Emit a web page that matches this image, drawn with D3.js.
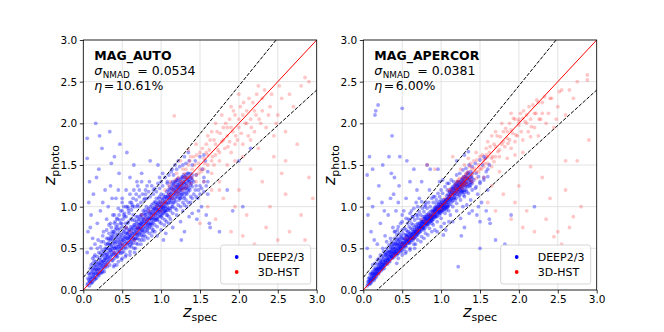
<!DOCTYPE html>
<html>
<head>
<meta charset="utf-8">
<script src="https://cdn.jsdelivr.net/npm/d3@7"></script>
<style>
  body { margin: 0; background: #fff; }
  text { font-family: "DejaVu Sans", sans-serif; }
</style>
</head>
<body>
<div id="container"></div>
<script>
/* DATA: [z_spec, z_photo] */

const tickValues = [0, 0.5, 1.0, 1.5, 2.0, 2.5, 3.0];
const panelTitles = ["MAG_AUTO", "MAG_APERCOR"];
const sigmaNmad = ["0.0534", "0.0381"];
const etaOutlier = ["10.61%", "6.00%"];
const seriesNames = ["DEEP2/3", "3D-HST"];
const outlierCut = 0.15;

const autoDeep = [
[0.06,0.08],[0.07,0.12],[0.08,0.1],[0.09,0.15],[0.1,0.13],[0.1,0.2],[0.11,0.09],[0.12,0.16],[0.12,0.24],[0.13,0.18],[0.14,0.12],[0.14,0.28],[0.15,0.2],[0.16,0.15],[0.16,0.25],[0.17,0.3],[0.18,0.19],[0.18,0.22],[0.19,0.33],[0.2,0.25],[0.2,0.17],[0.21,0.3],[0.22,0.21],[0.22,0.36],[0.23,0.27],[0.24,0.32],[0.24,0.22],[0.25,0.4],[0.25,0.29],[0.26,0.35],[0.27,0.26],[0.27,0.44],[0.28,0.33],[0.28,0.38],[0.29,0.3],[0.29,0.48],[0.3,0.36],[0.3,0.42],
[0.05,0.45],[0.06,0.7],[0.07,1.05],[0.05,1.58],[0.05,1.82],[0.16,2.0],[0.08,1.3],[0.1,0.9],[0.12,0.62],[0.13,1.15],[0.15,0.55],[0.18,0.8],[0.2,1.45],[0.22,0.95],[0.24,1.7],[0.26,0.7],[0.28,1.2],[0.1,0.5],[0.14,0.4],[0.19,0.6],[0.21,1.85],[0.25,1.05],[0.3,0.85],[0.09,0.75],[0.17,1.35],[0.23,0.58],
[0.31,0.4],[0.32,0.5],[0.32,0.34],[0.33,0.45],[0.34,0.55],[0.34,0.38],[0.35,0.48],[0.35,0.6],[0.36,0.42],[0.36,0.52],[0.37,0.35],[0.37,0.65],[0.38,0.47],[0.38,0.56],[0.39,0.43],[0.39,0.7],[0.4,0.5],[0.4,0.38],[0.41,0.58],[0.41,0.45],[0.42,0.62],[0.42,0.52],[0.43,0.4],[0.43,0.74],[0.44,0.55],[0.44,0.48],[0.45,0.6],[0.45,0.44],[0.46,0.52],[0.46,0.68],[0.47,0.56],[0.47,0.47],[0.48,0.64],[0.48,0.5],[0.49,0.58],[0.49,0.8],[0.5,0.54],[0.5,0.45],
[0.32,1.0],[0.35,1.25],[0.38,0.9],[0.4,1.6],[0.42,1.1],[0.44,0.85],[0.46,1.4],[0.48,0.95],[0.33,0.78],[0.36,1.52],[0.41,0.82],[0.45,1.2],[0.47,1.75],[0.5,1.05],[0.43,0.3],[0.39,0.28],[0.49,0.36],[0.34,1.9],[0.37,1.1],
[0.51,0.6],[0.52,0.5],[0.52,0.7],[0.53,0.58],[0.54,0.64],[0.54,0.52],[0.55,0.75],[0.55,0.6],[0.56,0.55],[0.56,0.68],[0.57,0.62],[0.57,0.8],[0.58,0.57],[0.58,0.7],[0.59,0.65],[0.59,0.52],[0.6,0.72],[0.6,0.62],[0.61,0.58],[0.61,0.85],[0.62,0.68],[0.62,0.6],[0.63,0.75],[0.63,0.65],[0.64,0.56],[0.64,0.9],[0.65,0.7],[0.65,0.64],[0.66,0.78],[0.66,0.6],[0.67,0.72],[0.67,0.67],[0.68,0.82],[0.68,0.62],[0.69,0.75],[0.69,0.69],[0.7,0.66],[0.7,0.88],
[0.52,1.0],[0.55,1.2],[0.58,0.95],[0.6,1.35],[0.62,1.05],[0.65,1.5],[0.68,1.15],[0.7,1.0],[0.54,0.4],[0.6,0.42],[0.66,0.45],[0.56,1.65],[0.63,1.0],[0.69,1.3],[0.53,0.88],[0.67,0.5],
[0.71,0.78],[0.71,0.7],[0.72,0.85],[0.72,0.74],[0.73,0.8],[0.73,0.68],[0.74,0.9],[0.74,0.76],[0.75,0.82],[0.75,0.72],[0.76,0.86],[0.76,0.78],[0.77,0.95],[0.77,0.74],[0.78,0.84],[0.78,0.8],[0.79,0.9],[0.79,0.7],[0.8,0.86],[0.8,0.78],[0.81,1.0],[0.81,0.82],[0.82,0.88],[0.82,0.76],[0.83,0.92],[0.83,0.84],[0.84,0.8],[0.84,0.98],[0.85,0.88],[0.85,0.84],[0.86,0.94],[0.86,0.78],[0.87,0.9],[0.87,0.86],[0.88,1.02],[0.88,0.84],[0.89,0.92],[0.89,0.8],[0.9,0.96],[0.9,0.88],
[0.72,1.2],[0.75,1.4],[0.78,0.6],[0.8,1.15],[0.83,0.62],[0.85,1.3],[0.88,0.65],[0.9,1.2],[0.74,0.55],[0.86,1.55],[0.79,1.1],[0.82,1.25],[0.76,0.64],[0.89,0.7],
[0.91,0.95],[0.91,0.86],[0.92,1.0],[0.92,0.9],[0.93,1.05],[0.93,0.94],[0.93,0.84],[0.94,0.98],[0.94,1.1],[0.95,0.92],[0.95,1.02],[0.96,0.96],[0.96,0.88],[0.97,1.06],[0.97,1.0],[0.98,0.94],[0.98,1.12],[0.99,1.0],[0.99,0.9],[1.0,1.04],[1.0,0.96],[1.0,1.15],[1.01,1.0],[1.01,0.9],[1.02,1.08],[1.02,0.98],[1.03,1.02],[1.03,0.92],[1.04,1.1],[1.04,1.0],[1.05,0.95],[1.05,1.06],[1.06,1.12],[1.06,0.98],[1.07,1.04],[1.07,0.9],[1.08,1.08],[1.08,1.0],[1.09,1.14],[1.09,0.96],[1.1,1.05],[1.1,1.12],
[0.92,0.7],[0.95,0.65],[0.98,1.35],[1.0,0.72],[1.02,1.4],[1.04,0.78],[1.06,0.68],[1.08,1.3],[1.1,0.8],[0.96,1.5],[1.03,0.6],[1.07,0.82],
[1.11,1.1],[1.11,1.2],[1.12,1.05],[1.12,1.15],[1.13,1.22],[1.13,1.08],[1.14,1.18],[1.14,1.0],[1.15,1.25],[1.15,1.12],[1.16,1.2],[1.16,1.05],[1.17,1.28],[1.17,1.15],[1.18,1.22],[1.18,1.1],[1.19,1.3],[1.19,1.18],[1.2,1.24],[1.2,1.12],[1.21,1.2],[1.21,1.32],[1.22,1.15],[1.22,1.26],[1.23,1.22],[1.23,1.08],[1.24,1.3],[1.24,1.18],[1.25,1.25],[1.25,1.12],[1.26,1.34],[1.26,1.2],[1.27,1.28],[1.27,1.15],[1.28,1.22],[1.28,1.35],[1.29,1.3],[1.29,1.1],[1.3,1.26],[1.3,1.18],[1.31,1.33],[1.32,1.22],[1.32,1.38],[1.33,1.28],[1.33,1.15],[1.34,1.32],[1.35,1.25],[1.35,1.4],[1.36,1.3],[1.37,1.2],[1.38,1.35],[1.39,1.28],[1.4,1.32],
[1.12,0.85],[1.15,0.75],[1.2,0.9],[1.25,0.82],[1.28,0.95],[1.3,0.7],[1.33,1.0],[1.36,0.88],[1.38,1.05],[1.4,0.92],[1.18,1.5],[1.22,1.55],[1.3,1.6],[1.35,1.65],[1.26,0.6],[1.14,1.45],
[1.42,1.3],[1.44,1.2],[1.45,1.38],[1.47,1.1],[1.5,1.25],[1.52,1.0],[1.55,1.3],[1.58,0.9],[1.6,1.15],[1.62,0.8],[1.48,0.95],[1.53,1.45],[1.57,1.55],[1.63,0.75],[1.46,0.85],[1.6,1.42],
[2.0,1.55],[2.05,1.0],[1.85,1.2],[1.75,0.7],[2.15,1.7],[1.92,0.95]
];

const autoDeepCore = [
[0.05,0.06],[0.06,0.14],[0.07,0.2],[0.08,0.05],[0.08,0.18],[0.09,0.1],[0.09,0.26],[0.1,0.08],[0.1,0.3],[0.11,0.14],[0.11,0.22],[0.12,0.1],[0.12,0.32],[0.13,0.2],[0.13,0.26],[0.14,0.16],[0.14,0.35],[0.15,0.24],[0.15,0.13],[0.15,0.3],
[0.16,0.2],[0.16,0.34],[0.17,0.14],[0.17,0.24],[0.18,0.28],[0.18,0.4],[0.19,0.18],[0.19,0.26],[0.2,0.32],[0.2,0.2],[0.21,0.38],[0.21,0.24],[0.22,0.3],[0.22,0.44],[0.23,0.2],[0.23,0.34],[0.24,0.26],[0.24,0.42],[0.25,0.34],[0.25,0.22],
[0.26,0.3],[0.26,0.46],[0.27,0.36],[0.27,0.22],[0.28,0.42],[0.28,0.28],[0.29,0.38],[0.29,0.55],[0.3,0.32],[0.3,0.5],[0.31,0.44],[0.31,0.28],[0.32,0.56],[0.32,0.4],[0.33,0.36],[0.33,0.6],[0.34,0.48],[0.34,0.3],[0.35,0.54],[0.35,0.4],
[0.36,0.62],[0.36,0.46],[0.37,0.5],[0.37,0.42],[0.38,0.6],[0.38,0.36],[0.39,0.52],[0.39,0.64],[0.4,0.44],[0.4,0.56],[0.41,0.68],[0.41,0.5],[0.42,0.42],[0.42,0.58],[0.43,0.64],[0.43,0.5],[0.44,0.4],[0.44,0.66],[0.45,0.52],[0.45,0.72],
[0.46,0.58],[0.46,0.46],[0.47,0.62],[0.47,0.74],[0.48,0.54],[0.48,0.44],[0.49,0.66],[0.49,0.5],[0.5,0.6],[0.5,0.76],[0.51,0.54],[0.51,0.68],[0.52,0.62],[0.52,0.46],[0.53,0.72],[0.53,0.64],[0.54,0.56],[0.54,0.8],[0.55,0.68],[0.55,0.5],
[0.56,0.62],[0.56,0.74],[0.57,0.56],[0.57,0.68],[0.58,0.64],[0.58,0.82],[0.59,0.6],[0.59,0.72],[0.6,0.66],[0.6,0.54],[0.61,0.76],[0.61,0.64],[0.62,0.72],[0.62,0.56],[0.63,0.68],[0.63,0.84],[0.64,0.62],[0.64,0.74],[0.65,0.78],[0.65,0.6],
[0.66,0.68],[0.66,0.84],[0.67,0.62],[0.67,0.76],[0.68,0.72],[0.68,0.88],[0.69,0.66],[0.69,0.8],[0.7,0.74],[0.7,0.62],[0.71,0.84],[0.71,0.74],[0.72,0.78],[0.72,0.66],[0.73,0.88],[0.73,0.74],[0.74,0.8],[0.74,0.7],[0.75,0.9],[0.75,0.78],
[0.76,0.72],[0.76,0.82],[0.77,0.86],[0.77,0.7],[0.78,0.92],[0.78,0.76],[0.79,0.82],[0.79,0.96],[0.8,0.74],[0.8,0.9],[0.81,0.8],[0.81,0.94],[0.82,0.84],[0.82,0.72],[0.83,0.96],[0.83,0.78],[0.84,0.86],[0.84,0.74],[0.85,0.92],[0.85,0.8],
[0.86,0.86],[0.86,1.0],[0.87,0.8],[0.87,0.94],[0.88,0.9],[0.88,0.78],[0.89,0.98],[0.89,0.86],[0.9,0.82],[0.9,1.04],[0.91,0.92],[0.91,0.98],[0.92,0.84],[0.92,1.06],[0.93,0.9],[0.93,0.98],[0.94,0.86],[0.94,1.02],[0.95,0.96],[0.95,0.84],
[0.96,1.04],[0.96,0.92],[0.97,0.96],[0.97,1.1],[0.98,0.88],[0.98,1.02],[0.99,1.06],[0.99,0.94],[1.0,1.0],[1.0,0.88],[1.01,1.1],[1.01,0.96],[1.02,1.04],[1.02,0.92],[1.03,1.14],[1.03,0.98],[1.04,0.94],[1.04,1.06],[1.05,1.0],[1.05,1.12],
[1.06,1.04],[1.06,0.94],[1.07,1.1],[1.07,1.18],[1.08,0.96],[1.08,1.12],[1.09,1.04],[1.09,1.2],[1.1,0.98],[1.1,1.16],[1.11,1.08],[1.11,1.24],[1.12,1.12],[1.12,0.98],[1.13,1.16],[1.13,1.28],[1.14,1.1],[1.14,1.22],[1.15,1.04],[1.15,1.3],
[1.16,1.14],[1.16,1.26],[1.17,1.08],[1.17,1.2],[1.18,1.3],[1.18,1.16],[1.19,1.24],[1.19,1.06],[1.2,1.32],[1.2,1.18],[1.21,1.12],[1.21,1.26],[1.22,1.22],[1.22,1.34],[1.23,1.16],[1.23,1.28],[1.24,1.24],[1.24,1.1],[1.25,1.32],[1.25,1.2],
[1.26,1.26],[1.26,1.14],[1.27,1.36],[1.27,1.22],[1.28,1.28],[1.28,1.16],[1.29,1.24],[1.29,1.38],[1.3,1.3],[1.3,1.12],[1.31,1.22],[1.31,1.36],[1.32,1.28],[1.32,1.16],[1.33,1.34],[1.33,1.24],[1.34,1.2],[1.34,1.4],[1.35,1.32],[1.36,1.22],[1.36,1.36],[1.37,1.3],[1.38,1.26],[1.38,1.4],[1.39,1.34],[1.4,1.24],[1.4,1.38]
];

const autoDeepHalo = [
[0.2,0.45],[0.22,0.52],[0.24,0.48],[0.26,0.58],[0.28,0.5],[0.3,0.62],[0.31,0.55],[0.33,0.68],[0.35,0.64],[0.36,0.75],[0.38,0.68],[0.4,0.8],[0.41,0.72],[0.43,0.86],[0.44,0.78],[0.46,0.9],[0.48,0.8],[0.5,0.95],[0.51,0.85],[0.53,0.92],[0.55,0.88],[0.57,1.0],[0.59,0.92],[0.6,1.05],[0.62,0.96],[0.64,1.1],[0.66,1.0],[0.68,1.08],[0.7,1.02],[0.72,1.12],[0.74,1.05],[0.76,1.15],[0.78,1.08],[0.8,1.2],[0.82,1.1],[0.84,1.18],[0.86,1.12],[0.88,1.25],[0.9,1.15],[0.92,1.22],[0.94,1.18],[0.96,1.28],[0.98,1.22],[1.0,1.3],[1.02,1.25],[1.05,1.35],[1.08,1.28],[1.1,1.38],[1.13,1.42],[1.16,1.38],[1.2,1.45],[1.24,1.48],[1.28,1.5],[1.32,1.52],[1.36,1.55],[1.4,1.5],[1.44,1.55],[1.5,1.6],[1.55,1.62],[0.25,0.65],[0.3,0.72],[0.35,0.8],[0.4,0.9],[0.45,0.98],[0.5,1.1],[0.55,1.0],[0.6,1.15],[0.65,1.2],[0.7,1.25],[0.75,1.3],[0.15,0.42],[0.18,0.5],[0.12,0.38],[0.32,0.62],[0.37,0.7],[0.42,0.76],[0.47,0.84],[0.52,0.9],[0.58,0.98],[0.63,1.02],
[0.4,0.3],[0.45,0.34],[0.5,0.38],[0.55,0.42],[0.6,0.46],[0.62,0.52],[0.65,0.5],[0.68,0.56],[0.7,0.55],[0.72,0.6],[0.75,0.6],[0.78,0.66],[0.8,0.64],[0.82,0.7],[0.85,0.68],[0.88,0.74],[0.9,0.72],[0.92,0.78],[0.95,0.76],[0.98,0.82],[1.0,0.8],[1.02,0.86],[1.05,0.84],[1.08,0.9],[1.1,0.88],[1.12,0.95],[1.15,0.92],[1.18,0.98],[1.2,0.96],[1.22,1.02],[1.25,1.0],[1.28,1.05],[1.3,1.02],[1.32,1.08],[1.35,1.05],[1.38,1.12],[1.4,1.1],[1.42,1.15],[1.45,1.12],[1.48,1.2],[1.5,1.15],[1.52,1.22],[1.55,1.18],[1.58,1.25],[1.6,1.3],[1.35,1.18],[1.25,1.1],[1.15,1.0],[1.05,0.95],[0.95,0.85],[0.85,0.76],[0.75,0.66],[1.45,1.25],[1.55,1.35]
];

const autoHst = [
[1.0,1.05],[1.05,1.2],[1.1,1.15],[1.12,1.3],[1.15,1.1],[1.18,1.25],[1.2,1.4],[1.22,1.18],[1.25,1.3],[1.28,1.45],[1.3,1.22],[1.32,1.35],[1.35,1.5],[1.38,1.28],[1.4,1.45],[1.42,1.6],[1.45,1.38],[1.48,1.52],[1.5,1.65],[1.52,1.42],[1.55,1.58],[1.58,1.75],[1.6,1.5],[1.62,1.68],[1.65,1.4],[1.68,1.8],[1.7,1.62],[1.72,1.9],[1.75,1.55],[1.78,1.78],[1.8,1.95],[1.82,1.7],[1.85,1.85],[1.88,2.05],[1.9,1.65],[1.92,1.9],[1.95,2.1],[1.98,1.8],[2.0,1.95],[2.02,2.2],[2.05,1.75],[2.08,2.0],[2.1,2.15],[2.12,1.85],[2.15,2.05],[2.18,2.25],[2.2,1.9],[2.22,2.1],[2.25,1.7],[2.28,2.0],[2.3,2.3],[2.35,1.95],[2.4,2.2],[2.45,1.85],[2.5,2.1],[2.55,2.3],[2.6,1.9],[2.7,2.2],[2.8,2.45],[2.85,2.55],[2.9,2.5],[2.65,2.35],[1.6,1.85],[1.7,2.0],[1.55,1.3],[1.45,1.75],[1.35,1.68],[1.25,1.55],[1.65,1.9],[1.9,2.2],[2.0,2.35],[2.05,1.6],[1.85,1.5],[1.95,1.55],[2.25,2.45],[1.75,1.3],[1.17,2.09],
[1.6,1.0],[1.7,0.85],[1.8,1.1],[1.9,0.7],[2.0,1.2],[2.1,0.9],[2.2,0.55],[2.3,1.3],[2.4,1.0],[2.5,0.6],[2.6,1.15],[2.7,0.45],[2.75,0.3],[2.8,0.9],[2.9,1.35],[1.5,0.8],[1.65,1.2],[2.05,0.65],[2.35,0.75],[2.55,1.4],[2.65,0.7],[2.85,0.6],[2.95,1.1],[1.95,1.0],[2.15,1.45],[2.45,1.6],[2.75,1.75],[2.6,1.55],[1.75,1.2],
[0.5,0.55],[0.6,0.7],[0.7,0.75],[0.8,0.85],[0.85,0.95],[0.9,0.9],[0.95,1.0],[0.75,0.9],[0.65,0.6],[1.0,0.95],[1.05,1.05],[1.1,1.25],[1.2,1.15],[1.3,1.35],[0.4,0.45],[0.55,0.75],[0.3,0.3],[0.2,0.22],
[1.3,1.4],[1.33,1.25],[1.37,1.55],[1.4,1.35],[1.43,1.5],[1.46,1.62],[1.5,1.45],[1.53,1.7],[1.56,1.52],[1.6,1.62],[1.63,1.8],[1.66,1.6],[1.7,1.75],[1.73,1.68],[1.76,1.88],[1.8,1.8],[1.83,2.0],[1.86,1.72],[1.9,1.95],[1.93,2.15],[1.96,1.85],[2.0,2.05],[2.03,1.88],[2.06,2.25],[2.1,2.0],[2.13,2.3],[2.16,1.95],[2.2,2.15],[2.23,2.35],[2.26,2.05],[2.3,2.15],[2.33,2.4],[2.38,2.1],[2.42,2.35],[2.48,2.0],[2.52,2.45],[1.45,1.3],[1.55,1.45],[1.65,1.55],[1.75,1.65],[1.85,1.95],[1.95,1.75],[2.05,2.1],[2.15,1.8],[1.38,1.6],[1.48,1.4],[1.58,1.65],[1.68,1.5],[1.78,2.1],[1.88,1.78],[1.22,1.35],[1.27,1.2],[1.15,1.2],[1.32,1.45],[1.18,1.32],[1.25,1.25],[1.35,1.35],[1.12,1.12],[1.28,1.3]
];

const apercorDeep = [
[0.06,0.07],[0.07,0.1],[0.08,0.12],[0.09,0.08],[0.1,0.14],[0.1,0.11],[0.11,0.16],[0.12,0.13],[0.12,0.2],[0.13,0.15],[0.14,0.18],[0.14,0.12],[0.15,0.2],[0.16,0.17],[0.16,0.24],[0.17,0.2],[0.18,0.22],[0.18,0.26],[0.19,0.21],[0.2,0.25],[0.2,0.3],[0.21,0.23],[0.22,0.28],[0.22,0.33],[0.23,0.26],[0.24,0.3],[0.24,0.36],[0.25,0.28],[0.26,0.32],[0.26,0.4],[0.27,0.3],[0.28,0.35],[0.28,0.42],[0.29,0.33],[0.3,0.38],[0.3,0.45],
[0.05,0.5],[0.06,0.9],[0.07,1.1],[0.05,1.38],[0.08,1.6],[0.1,0.7],[0.12,1.0],[0.15,2.1],[0.16,2.15],[0.18,0.55],[0.2,1.25],[0.22,0.8],[0.25,1.5],[0.28,0.65],[0.09,0.4],[0.14,0.6],[0.24,1.05],[0.19,2.22],[0.12,1.45],[0.27,0.95],
[0.31,0.36],[0.32,0.42],[0.32,0.34],[0.33,0.4],[0.34,0.46],[0.34,0.37],[0.35,0.42],[0.35,0.5],[0.36,0.4],[0.36,0.46],[0.37,0.38],[0.37,0.53],[0.38,0.44],[0.38,0.48],[0.39,0.42],[0.39,0.56],[0.4,0.46],[0.4,0.4],[0.41,0.5],[0.41,0.44],[0.42,0.55],[0.42,0.47],[0.43,0.42],[0.43,0.6],[0.44,0.5],[0.44,0.46],[0.45,0.54],[0.45,0.44],[0.46,0.5],[0.46,0.6],[0.47,0.52],[0.47,0.47],[0.48,0.57],[0.48,0.5],[0.49,0.54],[0.49,0.65],[0.5,0.52],[0.5,0.47],
[0.32,0.9],[0.35,1.1],[0.38,0.75],[0.4,1.35],[0.42,0.95],[0.44,0.72],[0.46,1.25],[0.48,0.8],[0.33,1.6],[0.36,1.4],[0.41,0.7],[0.45,1.05],[0.5,2.18],[0.5,0.9],[0.43,0.32],[0.47,1.6],[0.39,1.15],[0.37,1.85],
[0.51,0.56],[0.52,0.52],[0.52,0.62],[0.53,0.56],[0.54,0.6],[0.54,0.53],[0.55,0.66],[0.55,0.58],[0.56,0.56],[0.56,0.64],[0.57,0.6],[0.57,0.7],[0.58,0.58],[0.58,0.66],[0.59,0.63],[0.59,0.56],[0.6,0.68],[0.6,0.62],[0.61,0.6],[0.61,0.74],[0.62,0.66],[0.62,0.62],[0.63,0.7],[0.63,0.65],[0.64,0.6],[0.64,0.78],[0.65,0.68],[0.65,0.65],[0.66,0.72],[0.66,0.63],[0.67,0.7],[0.67,0.68],[0.68,0.76],[0.68,0.65],[0.69,0.72],[0.69,0.7],[0.7,0.68],[0.7,0.8],
[0.52,0.95],[0.55,1.1],[0.58,0.85],[0.6,1.3],[0.62,0.95],[0.65,1.45],[0.68,1.05],[0.7,0.9],[0.54,0.44],[0.6,0.48],[0.66,0.5],[0.56,1.55],[0.63,0.88],[0.69,1.2],[0.67,0.55],
[0.71,0.75],[0.71,0.7],[0.72,0.8],[0.72,0.74],[0.73,0.77],[0.73,0.7],[0.74,0.84],[0.74,0.76],[0.75,0.8],[0.75,0.73],[0.76,0.82],[0.76,0.77],[0.77,0.88],[0.77,0.75],[0.78,0.82],[0.78,0.79],[0.79,0.86],[0.79,0.74],[0.8,0.84],[0.8,0.8],[0.81,0.9],[0.81,0.82],[0.82,0.86],[0.82,0.79],[0.83,0.88],[0.83,0.84],[0.84,0.82],[0.84,0.92],[0.85,0.87],[0.85,0.85],[0.86,0.9],[0.86,0.82],[0.87,0.88],[0.87,0.86],[0.88,0.95],[0.88,0.86],[0.89,0.9],[0.89,0.84],[0.9,0.93],[0.9,0.88],
[0.72,1.1],[0.75,1.3],[0.78,0.62],[0.8,1.05],[0.83,0.66],[0.85,1.2],[0.88,0.7],[0.9,1.12],[0.74,0.58],[0.86,1.45],[0.79,1.0],[0.82,1.5],
[0.91,0.94],[0.91,0.88],[0.92,0.97],[0.92,0.91],[0.93,1.0],[0.93,0.94],[0.93,0.88],[0.94,0.97],[0.94,1.04],[0.95,0.93],[0.95,1.0],[0.96,0.97],[0.96,0.92],[0.97,1.02],[0.97,0.99],[0.98,0.95],[0.98,1.06],[0.99,1.0],[0.99,0.94],[1.0,1.03],[1.0,0.98],[1.0,1.08],[1.01,1.01],[1.01,0.95],[1.02,1.05],[1.02,0.99],[1.03,1.02],[1.03,0.96],[1.04,1.06],[1.04,1.01],[1.05,0.98],[1.05,1.05],[1.06,1.08],[1.06,1.0],[1.07,1.05],[1.07,0.96],[1.08,1.08],[1.08,1.02],[1.09,1.1],[1.09,1.0],[1.1,1.06],[1.1,1.1],
[0.92,0.72],[0.95,0.7],[0.98,1.3],[1.0,0.76],[1.02,1.32],[1.04,0.8],[1.06,0.72],[1.08,1.28],[1.1,0.82],[0.96,1.45],[1.03,0.66],
[1.11,1.12],[1.11,1.18],[1.12,1.08],[1.12,1.15],[1.13,1.2],[1.13,1.1],[1.14,1.17],[1.14,1.06],[1.15,1.22],[1.15,1.14],[1.16,1.19],[1.16,1.1],[1.17,1.25],[1.17,1.16],[1.18,1.22],[1.18,1.13],[1.19,1.27],[1.19,1.19],[1.2,1.24],[1.2,1.15],[1.21,1.21],[1.21,1.3],[1.22,1.18],[1.22,1.26],[1.23,1.23],[1.23,1.12],[1.24,1.29],[1.24,1.2],[1.25,1.26],[1.25,1.16],[1.26,1.32],[1.26,1.22],[1.27,1.28],[1.27,1.18],[1.28,1.24],[1.28,1.34],[1.29,1.3],[1.29,1.14],[1.3,1.28],[1.3,1.2],[1.31,1.33],[1.32,1.24],[1.32,1.38],[1.33,1.3],[1.33,1.18],[1.34,1.34],[1.35,1.28],[1.35,1.4],[1.36,1.32],[1.37,1.24],[1.38,1.36],[1.39,1.3],[1.4,1.34],
[1.12,0.9],[1.15,0.82],[1.2,0.95],[1.25,0.86],[1.28,1.0],[1.3,0.75],[1.33,1.02],[1.36,0.92],[1.38,1.08],[1.4,0.95],[1.2,1.55],[1.3,1.62],[1.35,1.66],[1.26,0.65],[1.22,0.28],
[1.42,1.32],[1.44,1.22],[1.45,1.4],[1.47,1.15],[1.5,1.3],[1.52,1.05],[1.55,1.35],[1.58,0.95],[1.6,1.2],[1.62,0.85],[1.48,1.0],[1.53,1.5],[1.57,1.58],[1.63,0.8],[1.46,0.9],[1.6,1.45],[1.5,0.5],
[1.82,0.55],[1.9,0.9],[1.5,0.82],[2.2,1.0],[1.7,0.6]
];

const apercorDeepCore = [
[0.05,0.05],[0.06,0.1],[0.07,0.14],[0.08,0.07],[0.08,0.15],[0.09,0.11],[0.09,0.19],[0.1,0.09],[0.1,0.2],[0.11,0.13],[0.11,0.18],[0.12,0.11],[0.12,0.22],[0.13,0.17],[0.13,0.21],[0.14,0.15],[0.14,0.25],[0.15,0.19],[0.15,0.14],[0.15,0.24],
[0.16,0.2],[0.16,0.27],[0.17,0.16],[0.17,0.23],[0.18,0.25],[0.18,0.31],[0.19,0.19],[0.19,0.26],[0.2,0.28],[0.2,0.21],[0.21,0.32],[0.21,0.25],[0.22,0.27],[0.22,0.35],[0.23,0.23],[0.23,0.31],[0.24,0.27],[0.24,0.34],[0.25,0.31],[0.25,0.25],
[0.26,0.29],[0.26,0.37],[0.27,0.33],[0.27,0.26],[0.28,0.36],[0.28,0.3],[0.29,0.34],[0.29,0.42],[0.3,0.32],[0.3,0.41],[0.31,0.38],[0.31,0.31],[0.32,0.44],[0.32,0.37],[0.33,0.35],[0.33,0.46],[0.34,0.41],[0.34,0.34],[0.35,0.45],[0.35,0.38],
[0.36,0.48],[0.36,0.41],[0.37,0.44],[0.37,0.4],[0.38,0.5],[0.38,0.39],[0.39,0.45],[0.39,0.52],[0.4,0.43],[0.4,0.49],[0.41,0.55],[0.41,0.46],[0.42,0.43],[0.42,0.51],[0.43,0.54],[0.43,0.47],[0.44,0.44],[0.44,0.56],[0.45,0.49],[0.45,0.58],
[0.46,0.53],[0.46,0.47],[0.47,0.55],[0.47,0.61],[0.48,0.51],[0.48,0.46],[0.49,0.57],[0.49,0.5],[0.5,0.55],[0.5,0.62],[0.51,0.52],[0.51,0.59],[0.52,0.56],[0.52,0.49],[0.53,0.62],[0.53,0.57],[0.54,0.54],[0.54,0.66],[0.55,0.6],[0.55,0.52],
[0.56,0.59],[0.56,0.65],[0.57,0.56],[0.57,0.62],[0.58,0.6],[0.58,0.7],[0.59,0.59],[0.59,0.65],[0.6,0.63],[0.6,0.57],[0.61,0.68],[0.61,0.62],[0.62,0.66],[0.62,0.59],[0.63,0.64],[0.63,0.73],[0.64,0.62],[0.64,0.68],[0.65,0.7],[0.65,0.62],
[0.66,0.67],[0.66,0.75],[0.67,0.64],[0.67,0.71],[0.68,0.69],[0.68,0.78],[0.69,0.67],[0.69,0.74],[0.7,0.72],[0.7,0.66],[0.71,0.77],[0.71,0.72],[0.72,0.75],[0.72,0.69],[0.73,0.8],[0.73,0.73],[0.74,0.77],[0.74,0.71],[0.75,0.82],[0.75,0.76],
[0.76,0.75],[0.76,0.8],[0.77,0.82],[0.77,0.74],[0.78,0.85],[0.78,0.77],[0.79,0.8],[0.79,0.88],[0.8,0.77],[0.8,0.85],[0.81,0.8],[0.81,0.88],[0.82,0.83],[0.82,0.77],[0.83,0.9],[0.83,0.8],[0.84,0.85],[0.84,0.79],[0.85,0.89],[0.85,0.82],
[0.86,0.86],[0.86,0.94],[0.87,0.83],[0.87,0.9],[0.88,0.89],[0.88,0.83],[0.89,0.94],[0.89,0.87],[0.9,0.85],[0.9,0.97],[0.91,0.91],[0.91,0.95],[0.92,0.87],[0.92,0.99],[0.93,0.9],[0.93,0.96],[0.94,0.89],[0.94,0.98],[0.95,0.95],[0.95,0.88],
[0.96,1.0],[0.96,0.93],[0.97,0.96],[0.97,1.04],[0.98,0.92],[0.98,1.0],[0.99,1.03],[0.99,0.95],[1.0,1.0],[1.0,0.93],[1.01,1.05],[1.01,0.97],[1.02,1.02],[1.02,0.95],[1.03,1.08],[1.03,0.99],[1.04,0.97],[1.04,1.04],[1.05,1.01],[1.05,1.08],
[1.06,1.04],[1.06,0.98],[1.07,1.08],[1.07,1.13],[1.08,0.99],[1.08,1.1],[1.09,1.05],[1.09,1.15],[1.1,1.02],[1.1,1.13],[1.11,1.08],[1.11,1.18],[1.12,1.12],[1.12,1.03],[1.13,1.15],[1.13,1.22],[1.14,1.1],[1.14,1.18],[1.15,1.07],[1.15,1.24],
[1.16,1.15],[1.16,1.22],[1.17,1.11],[1.17,1.19],[1.18,1.26],[1.18,1.17],[1.19,1.22],[1.19,1.1],[1.2,1.28],[1.2,1.19],[1.21,1.15],[1.21,1.25],[1.22,1.22],[1.22,1.3],[1.23,1.18],[1.23,1.26],[1.24,1.24],[1.24,1.14],[1.25,1.3],[1.25,1.21],
[1.26,1.27],[1.26,1.18],[1.27,1.33],[1.27,1.24],[1.28,1.29],[1.28,1.2],[1.29,1.26],[1.29,1.36],[1.3,1.31],[1.3,1.17],[1.31,1.25],[1.31,1.36],[1.32,1.3],[1.32,1.2],[1.33,1.35],[1.33,1.27],[1.34,1.24],[1.34,1.41],[1.35,1.34],[1.36,1.26],[1.36,1.38],[1.37,1.32],[1.38,1.29],[1.38,1.42],[1.39,1.36],[1.4,1.28],[1.4,1.4]
];

const apercorDeepHalo = [
[0.2,0.38],[0.22,0.42],[0.24,0.4],[0.26,0.46],[0.28,0.44],[0.3,0.5],[0.31,0.47],[0.33,0.54],[0.35,0.52],[0.36,0.58],[0.38,0.55],[0.4,0.62],[0.41,0.58],[0.43,0.66],[0.44,0.62],[0.46,0.68],[0.48,0.64],[0.5,0.72],[0.51,0.68],[0.53,0.74],[0.55,0.72],[0.57,0.8],[0.59,0.76],[0.6,0.84],[0.62,0.8],[0.64,0.88],[0.66,0.84],[0.68,0.9],[0.7,0.86],[0.72,0.94],[0.74,0.9],[0.76,0.98],[0.78,0.94],[0.8,1.02],[0.82,0.98],[0.84,1.05],[0.86,1.0],[0.88,1.1],[0.9,1.05],[0.92,1.12],[0.94,1.08],[0.96,1.16],[0.98,1.12],[1.0,1.2],[1.02,1.16],[1.05,1.24],[1.08,1.2],[1.1,1.28],[1.13,1.32],[1.16,1.3],[1.2,1.38],[1.24,1.4],[1.28,1.44],[1.32,1.46],[1.36,1.5],[1.4,1.48],[1.44,1.52],[1.5,1.56],[1.55,1.6],[0.25,0.5],[0.3,0.58],[0.35,0.62],[0.4,0.7],[0.45,0.76],[0.5,0.82],[0.55,0.86],[0.6,0.92],[0.65,0.98],[0.7,1.0],[0.75,1.06],[0.15,0.32],[0.18,0.36],[0.12,0.3],
[0.45,0.38],[0.5,0.42],[0.55,0.46],[0.6,0.5],[0.65,0.55],[0.7,0.6],[0.75,0.64],[0.8,0.68],[0.85,0.74],[0.9,0.78],[0.95,0.82],[1.0,0.86],[1.05,0.92],[1.1,0.95],[1.15,1.0],[1.2,1.04],[1.25,1.08],[1.3,1.12],[1.35,1.16],[1.4,1.2],[1.45,1.24],[1.5,1.28],[1.55,1.32],[1.6,1.36],[0.78,0.72],[0.88,0.8],[0.98,0.9],[1.08,1.0],[1.18,1.08],[1.28,1.18],[1.38,1.26],[1.48,1.36],[1.58,1.42],[1.62,1.5]
];

const apercorHst = [
[1.0,1.02],[1.05,1.1],[1.1,1.12],[1.12,1.2],[1.15,1.14],[1.18,1.22],[1.2,1.3],[1.22,1.2],[1.25,1.28],[1.28,1.35],[1.3,1.26],[1.32,1.34],[1.35,1.42],[1.38,1.32],[1.4,1.45],[1.42,1.55],[1.45,1.42],[1.48,1.5],[1.5,1.6],[1.52,1.45],[1.55,1.56],[1.58,1.7],[1.6,1.52],[1.62,1.65],[1.65,1.48],[1.68,1.75],[1.7,1.6],[1.72,1.85],[1.75,1.6],[1.78,1.75],[1.8,1.9],[1.82,1.72],[1.85,1.82],[1.88,2.0],[1.9,1.7],[1.92,1.88],[1.95,2.05],[1.98,1.85],[2.0,1.98],[2.02,2.12],[2.05,1.8],[2.08,2.02],[2.1,2.1],[2.12,1.9],[2.15,2.05],[2.18,2.22],[2.2,1.95],[2.22,2.12],[2.25,1.85],[2.28,2.05],[2.3,2.25],[2.35,2.0],[2.4,2.3],[2.45,1.95],[2.5,2.2],[2.55,2.4],[2.6,2.1],[2.7,2.3],[2.75,2.5],[2.88,2.58],[2.88,2.52],[2.65,2.4],[1.6,1.78],[1.7,1.9],[1.55,1.35],[1.45,1.65],[1.35,1.58],[1.25,1.45],[1.65,1.85],[1.9,2.12],[2.0,2.05],[2.05,1.65],[1.85,1.58],[1.95,1.62],[2.25,2.25],[1.75,1.42],[1.15,1.6],[1.3,1.5],[1.4,1.3],
[1.6,1.05],[1.7,0.95],[1.8,1.15],[1.9,0.85],[2.0,1.25],[2.1,0.95],[2.3,1.35],[2.4,1.1],[2.5,0.7],[2.6,1.2],[2.7,0.88],[2.75,1.55],[2.8,1.0],[2.9,1.8],[1.65,1.25],[2.05,0.75],[2.35,0.85],[2.55,0.55],[2.65,0.75],[2.45,0.64],[1.95,1.05],[2.15,1.48],[2.6,1.55],[2.2,0.7],
[0.5,0.55],[0.6,0.62],[0.7,0.72],[0.8,0.82],[0.85,0.9],[0.9,0.92],[0.95,0.98],[0.75,0.85],[0.65,0.62],[1.0,0.97],[1.05,1.04],[1.1,1.2],[1.2,1.17],[1.3,1.32],[0.4,0.42],[0.55,0.62],[0.3,0.32],[0.2,0.2],[0.92,1.45],[0.82,1.5],[1.22,1.32],[1.28,1.25],[1.33,1.38],
[1.3,1.36],[1.33,1.28],[1.37,1.48],[1.4,1.38],[1.43,1.46],[1.46,1.56],[1.5,1.46],[1.53,1.62],[1.56,1.52],[1.6,1.6],[1.63,1.72],[1.66,1.6],[1.7,1.72],[1.73,1.66],[1.76,1.84],[1.8,1.78],[1.83,1.94],[1.86,1.76],[1.9,1.92],[1.93,2.06],[1.96,1.86],[2.0,2.02],[2.03,1.9],[2.06,2.15],[2.1,2.0],[2.13,2.2],[2.16,1.96],[2.2,2.12],[2.23,2.28],[2.26,2.05],[2.3,2.12],[2.33,2.32],[2.38,2.12],[2.42,2.3],[2.48,2.05],[2.52,2.38],[1.45,1.34],[1.55,1.48],[1.65,1.58],[1.75,1.68],[1.85,1.9],[1.95,1.78],[2.05,2.06],[2.15,1.84],[1.38,1.52],[1.48,1.42],[1.58,1.62],[1.68,1.54],[1.78,2.0],[1.88,1.8],[1.22,1.3],[1.27,1.22],[1.15,1.18],[1.32,1.4],[1.18,1.26],[1.25,1.25],[1.35,1.33],[1.12,1.14],[1.28,1.3],[1.2,1.22],[1.24,1.34],[1.31,1.28]
];

/* LAYOUT */
const width = 664, height = 332;
const plotTop = 40, plotH = 250, plotW = 233.4;
const panelLefts = [83.3, 363.3];
const deepSets = [
  autoDeep.concat(autoDeepCore, autoDeepHalo),
  apercorDeep.concat(apercorDeepCore, apercorDeepHalo)
];
const hstSets = [autoHst, apercorHst];
const blue = "#0000ff", red = "#ff0000";

const svg = d3.select("#container")
  .append("svg")
  .attr("width", width)
  .attr("height", height);

panelLefts.forEach((left, i) => {
  const xScale = d3.scaleLinear().domain([0, 3]).range([left, left + plotW]);
  const yScale = d3.scaleLinear().domain([0, 3]).range([plotTop + plotH, plotTop]);

  const g = svg.append("g");

  // grid
  g.selectAll(".vgrid").data(tickValues).join("line")
    .attr("class", "vgrid")
    .attr("x1", d => xScale(d)).attr("x2", d => xScale(d))
    .attr("y1", plotTop).attr("y2", plotTop + plotH)
    .attr("stroke", "#dcdcdc").attr("stroke-width", 0.8);
  g.selectAll(".hgrid").data(tickValues).join("line")
    .attr("class", "hgrid")
    .attr("y1", d => yScale(d)).attr("y2", d => yScale(d))
    .attr("x1", left).attr("x2", left + plotW)
    .attr("stroke", "#dcdcdc").attr("stroke-width", 0.8);

  const clipId = "clip" + i;
  svg.append("clipPath").attr("id", clipId)
    .append("rect").attr("x", left).attr("y", plotTop).attr("width", plotW).attr("height", plotH);

  const pts = g.append("g").attr("clip-path", `url(#${clipId})`);

  pts.selectAll(".deep").data(deepSets[i]).join("circle")
    .attr("class", "deep")
    .attr("cx", d => xScale(d[0]))
    .attr("cy", d => yScale(d[1]))
    .attr("r", 1.9)
    .attr("fill", blue)
    .attr("fill-opacity", 0.37);

  pts.selectAll(".hst").data(hstSets[i]).join("circle")
    .attr("class", "hst")
    .attr("cx", d => xScale(d[0]))
    .attr("cy", d => yScale(d[1]))
    .attr("r", 1.9)
    .attr("fill", red)
    .attr("fill-opacity", 0.22);

  // one-to-one and outlier boundaries
  const line = d3.line().x(d => xScale(d[0])).y(d => yScale(d[1]));
  pts.append("path")
    .attr("d", line([[0, outlierCut], [3, 3 + outlierCut * 4]]))
    .attr("stroke", "#000").attr("stroke-width", 1).attr("stroke-dasharray", "3.7,1.6").attr("fill", "none");
  pts.append("path")
    .attr("d", line([[0, -outlierCut], [3, 3 - outlierCut * 4]]))
    .attr("stroke", "#000").attr("stroke-width", 1).attr("stroke-dasharray", "3.7,1.6").attr("fill", "none");
  pts.append("path")
    .attr("d", line([[0, 0], [3, 3]]))
    .attr("stroke", red).attr("stroke-width", 1).attr("fill", "none");

  // axes
  const xAxis = d3.axisBottom(xScale).tickValues(tickValues).tickFormat(d3.format(".1f")).tickSize(3.5).tickPadding(2.5);
  const yAxis = d3.axisLeft(yScale).tickValues(tickValues).tickFormat(d3.format(".1f")).tickSize(3.5).tickPadding(2.5);

  const gx = svg.append("g").attr("transform", `translate(0,${plotTop + plotH})`).call(xAxis);
  const gy = svg.append("g").attr("transform", `translate(${left},0)`).call(yAxis);
  [gx, gy].forEach(a => {
    a.select(".domain").remove();
    a.selectAll("line").attr("stroke", "#000").attr("stroke-width", 0.8);
    a.selectAll("text").attr("font-size", 10.5).attr("fill", "#000").attr("font-family", "DejaVu Sans");
  });

  svg.append("rect")
    .attr("x", left).attr("y", plotTop).attr("width", plotW).attr("height", plotH)
    .attr("fill", "none").attr("stroke", "#000").attr("stroke-width", 0.8);

  // axis labels
  const cx = left + plotW / 2;
  const xl = svg.append("text").attr("x", cx).attr("y", 317).attr("text-anchor", "middle");
  xl.append("tspan").attr("font-size", 16).attr("font-style", "italic").text("z");
  xl.append("tspan").attr("font-size", 11).attr("dy", 4).text("spec");

  const yl = svg.append("text")
    .attr("transform", `translate(${left - 28},${plotTop + plotH / 2}) rotate(-90)`)
    .attr("text-anchor", "middle");
  yl.append("tspan").attr("font-size", 16).attr("font-style", "italic").text("z");
  yl.append("tspan").attr("font-size", 11).attr("dy", 4).text("photo");

  // annotations
  const tx = left + 11;
  svg.append("text").attr("x", tx).attr("y", 60).attr("font-size", 12.5).attr("font-weight", "bold").text(panelTitles[i]);
  const s = svg.append("text").attr("x", tx).attr("y", 75).attr("font-size", 12.5);
  s.append("tspan").attr("font-style", "italic").text("σ");
  s.append("tspan").attr("font-size", 8.8).attr("dy", 2.5).attr("dx", 0.5).text("NMAD");
  s.append("tspan").attr("dy", -2.5).attr("x", tx + 43).text("= " + sigmaNmad[i]);
  const e = svg.append("text").attr("x", tx).attr("y", 90).attr("font-size", 12.5);
  e.append("tspan").attr("font-style", "italic").text("η");
  e.append("tspan").attr("dx", 1.5).text("=");
  e.append("tspan").attr("dx", 1.5).text(etaOutlier[i]);

  // legend
  const lx = left + plotW - 96, ly = plotTop + plotH - 45;
  const lg = svg.append("g");
  lg.append("rect").attr("x", lx).attr("y", ly).attr("width", 90).attr("height", 39).attr("rx", 2.5)
    .attr("fill", "#fff").attr("fill-opacity", 0.8).attr("stroke", "#ccc").attr("stroke-width", 0.8);
  seriesNames.forEach((name, k) => {
    const yy = ly + 12 + k * 15;
    lg.append("circle").attr("cx", lx + 16).attr("cy", yy).attr("r", 1.9).attr("fill", k === 0 ? blue : red);
    lg.append("text").attr("x", lx + 37).attr("y", yy + 4).attr("font-size", 11).text(name);
  });
});
</script>
</body>
</html>
